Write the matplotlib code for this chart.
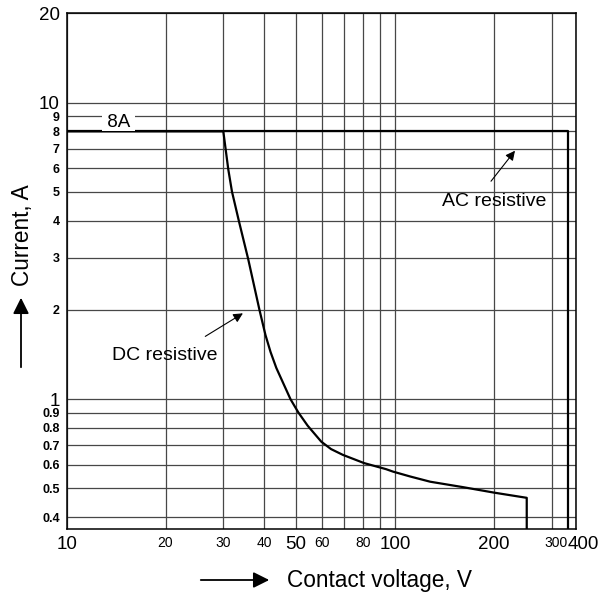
import matplotlib
matplotlib.use('Agg')
import matplotlib.pyplot as plt
import matplotlib.transforms as mtransforms

plt.rcParams['font.family'] = ['Liberation Sans', 'DejaVu Sans']

# axis range and grid
x_min, x_max = 10, 356
y_min, y_max = 0.365, 20
x_grid = [10, 20, 30, 40, 50, 60, 70, 80, 90, 100, 200, 300, 356]
x_labels = ['10', '20', '30', '40', '50', '60', '', '80', '', '100', '200', '300', '400']
x_big = ['10', '50', '100', '200', '400']
y_grid = [0.4, 0.5, 0.6, 0.7, 0.8, 0.9, 1, 2, 3, 4, 5, 6, 7, 8, 9, 10, 20]
y_labels = ['0.4', '0.5', '0.6', '0.7', '0.8', '0.9', '1', '2', '3', '4', '5', '6', '7', '8', '9', '10', '20']
y_big = ['1', '10', '20']

# AC resistive load limit
ac_volt = [10, 337, 337]
ac_amp = [8, 8, y_min]

# DC resistive load limit
dc_volt = [10, 30, 31.06, 31.88, 33.44, 35.74, 38.66, 40.32, 41.79, 43.52, 48.06, 50.75, 54.21,
           59.65, 63.85, 69.4, 80.5, 93.9, 98.6, 111.1, 128, 161.5, 200.7, 252, 252]
dc_amp = [8, 8, 5.96, 5.01, 4.0, 2.96, 2.0, 1.646, 1.442, 1.274, 1.0, 0.903, 0.814,
          0.719, 0.679, 0.649, 0.609, 0.581, 0.570, 0.549, 0.527, 0.505, 0.484, 0.465, y_min]

fig = plt.figure(figsize=(5.98, 5.94), dpi=100)
ax = fig.add_axes([0.1115, 0.1094, 0.8517, 0.8682])
ax.set_xscale('log')
ax.set_yscale('log')
ax.set_xlim(x_min, x_max)
ax.set_ylim(y_min, y_max)

ax.set_xticks(x_grid)
ax.set_xticklabels(x_labels)
ax.set_yticks(y_grid)
ax.set_yticklabels(y_labels)
ax.minorticks_off()
ax.tick_params(length=0, pad=5)
for lab in ax.get_xticklabels():
    if lab.get_text() in x_big:
        lab.set_fontsize(13.5)
    else:
        lab.set_fontsize(10)
    # last two labels sit a little to the right in the original
    if lab.get_text() in ('300', '400'):
        shift = 4 if lab.get_text() == '300' else 7
        lab.set_transform(lab.get_transform() +
                          mtransforms.ScaledTranslation(shift / 100, 0, fig.dpi_scale_trans))
for lab in ax.get_yticklabels():
    if lab.get_text() in y_big:
        lab.set_fontsize(13.5)
    else:
        lab.set_fontsize(9)
        lab.set_fontweight('bold')
ax.grid(True, color='#474747', linewidth=0.9)
for s in ax.spines.values():
    s.set_linewidth(1.1)

ax.plot(ac_volt, ac_amp, color='black', linewidth=1.6)
ax.plot(dc_volt, dc_amp, color='black', linewidth=1.6)

# labels on the chart
ax.text(14.4, 8.6, ' 8A ', fontsize=13.5, ha='center', va='center',
        bbox=dict(facecolor='white', edgecolor='none', pad=0.3))
ax.annotate('', xy=(35.0, 1.97), xytext=(26.0, 1.61),
            arrowprops=dict(arrowstyle='-|>', color='black', lw=0.8, mutation_scale=14))
ax.text(19.9, 1.40, 'DC resistive', fontsize=14, ha='center', va='center')
ax.annotate('', xy=(234.9, 7.0), xytext=(193.8, 5.34),
            arrowprops=dict(arrowstyle='-|>', color='black', lw=0.8, mutation_scale=14))
ax.text(200.7, 4.63, 'AC resistive', fontsize=14, ha='center', va='center')

# axis titles with arrows
fig.text(287 / 598, 1 - 580 / 594, 'Contact voltage, V', fontsize=16.3, ha='left', va='center')
ax.annotate('', xy=(272 / 598, 1 - 580 / 594), xytext=(198 / 598, 1 - 580 / 594),
            xycoords='figure fraction', textcoords='figure fraction',
            arrowprops=dict(arrowstyle='-|>', color='black', lw=1.3, mutation_scale=24))
fig.text(22 / 598, 1 - 235 / 594, 'Current, A', fontsize=16.3, rotation=90, ha='center', va='center')
ax.annotate('', xy=(21 / 598, 1 - 295 / 594), xytext=(21 / 598, 1 - 370 / 594),
            xycoords='figure fraction', textcoords='figure fraction',
            arrowprops=dict(arrowstyle='-|>', color='black', lw=1.3, mutation_scale=24))

fig.savefig('out.png', dpi=100, facecolor='white')
